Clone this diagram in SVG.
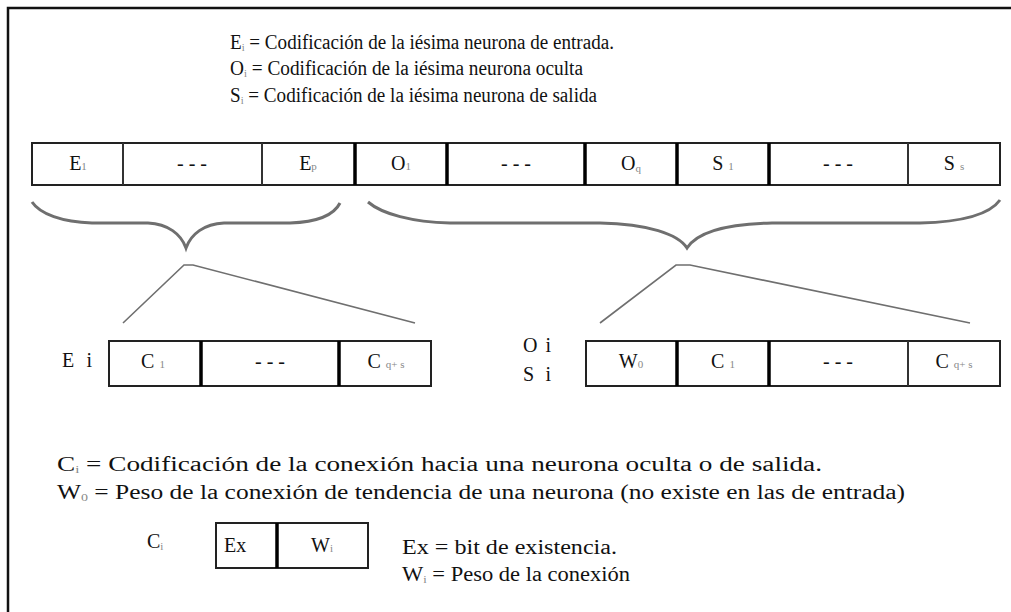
<svg xmlns="http://www.w3.org/2000/svg" width="1011" height="612" viewBox="0 0 1011 612">
<style>
text{font-family:"Liberation Serif","Times New Roman",serif;fill:#111}
.h{font-size:20px}
.b{font-size:20px}
.s{font-size:11px;fill:#888}
.box{fill:#fff;stroke:#222;stroke-width:2}
.thin{stroke:#333;stroke-width:2}
.thick{stroke:#000;stroke-width:3.5}
.brace{fill:none;stroke:#6f6f6f;stroke-width:3}
.lead{fill:none;stroke:#6f6f6f;stroke-width:1.6}
.m{text-anchor:middle}
</style>
<rect width="1011" height="612" fill="#fff"/>
<path d="M8,620 V8 H1020" fill="none" stroke="#111" stroke-width="2.5"/>

<g id="legend-top">
<text class="h" x="230" y="49" textLength="384" lengthAdjust="spacingAndGlyphs">E<tspan class="s" dy="2">i</tspan><tspan dy="-2"> =  Codificación de la iésima neurona de entrada.</tspan></text>
<text class="h" x="230" y="75" textLength="353" lengthAdjust="spacingAndGlyphs">O<tspan class="s" dy="2">i</tspan><tspan dy="-2"> = Codificación de la iésima neurona oculta</tspan></text>
<text class="h" x="230" y="102" textLength="367" lengthAdjust="spacingAndGlyphs">S<tspan class="s" dy="2">i</tspan><tspan dy="-2"> =  Codificación de la iésima neurona de salida</tspan></text>
</g>

<g id="chromosome">
<rect class="box" x="32" y="143" width="968" height="42"/>
<line class="thin" x1="123" y1="143" x2="123" y2="185"/>
<line class="thin" x1="262" y1="143" x2="262" y2="185"/>
<line class="thick" x1="355" y1="143" x2="355" y2="185"/>
<line class="thick" x1="447" y1="143" x2="447" y2="185"/>
<line class="thick" x1="585" y1="143" x2="585" y2="185"/>
<line class="thick" x1="677" y1="143" x2="677" y2="185"/>
<line class="thick" x1="769" y1="143" x2="769" y2="185"/>
<line class="thin" x1="908" y1="143" x2="908" y2="185"/>
<text class="b m" x="78" y="170">E<tspan class="s">1</tspan></text>
<text class="b m" x="192" y="170">- - -</text>
<text class="b m" x="308" y="170">E<tspan class="s">p</tspan></text>
<text class="b m" x="401" y="170">O<tspan class="s">1</tspan></text>
<text class="b m" x="516" y="170">- - -</text>
<text class="b m" x="631" y="170">O<tspan class="s" dy="2">q</tspan></text>
<text class="b m" x="723" y="170">S <tspan class="s">1</tspan></text>
<text class="b m" x="838" y="170">- - -</text>
<text class="b m" x="954" y="170">S <tspan class="s">s</tspan></text>
</g>

<g id="connectors">
<path class="brace" d="M32,202 C40,214 62,222 92,223 L148,223 C168,224 181,234 186,248 C191,234 204,224 224,223 L290,223 C318,222 334,215 340,203"/>
<path class="brace" d="M368,202 C382,214 412,222 450,223 L600,223 C648,224 678,234 687,248 C696,234 722,224 772,223 L920,223 C962,222 990,214 1000,200"/>
<polyline class="lead" points="123,323 184,265 193,265 415,323"/>
<polyline class="lead" points="600,323 676,265 690,265 970,323"/>
</g>

<g id="gene-input">
<text class="b" x="62" y="367" textLength="30" lengthAdjust="spacing">E i</text>
<rect class="box" x="109" y="341" width="322" height="45"/>
<line class="thick" x1="201" y1="341" x2="201" y2="386"/>
<line class="thick" x1="339" y1="341" x2="339" y2="386"/>
<text class="b m" x="153" y="368">C <tspan class="s">1</tspan></text>
<text class="b m" x="270" y="368">- - -</text>
<text class="b m" x="386" y="368">C <tspan class="s">q+ s</tspan></text>
</g>

<g id="gene-hidden-output">
<text class="b" x="523" y="352" textLength="28" lengthAdjust="spacing">O i</text>
<text class="b" x="523" y="381" textLength="28" lengthAdjust="spacing">S i</text>
<rect class="box" x="586" y="341" width="414" height="45"/>
<line class="thick" x1="677" y1="341" x2="677" y2="386"/>
<line class="thick" x1="769" y1="341" x2="769" y2="386"/>
<line class="thin" x1="908" y1="341" x2="908" y2="386"/>
<text class="b m" x="631" y="368">W<tspan class="s">0</tspan></text>
<text class="b m" x="723" y="368">C <tspan class="s">1</tspan></text>
<text class="b m" x="838" y="368">- - -</text>
<text class="b m" x="954" y="368">C <tspan class="s">q+ s</tspan></text>
</g>

<g id="legend-middle">
<text class="h" x="57" y="471" textLength="765" lengthAdjust="spacingAndGlyphs">C<tspan class="s" dy="2">i</tspan><tspan dy="-2"> =  Codificación de la conexión hacia una neurona oculta o de salida.</tspan></text>
<text class="h" x="57" y="499" textLength="848" lengthAdjust="spacingAndGlyphs">W<tspan class="s" dy="2">0</tspan><tspan dy="-2"> =  Peso de la conexión de tendencia de una neurona (no existe en las de entrada)</tspan></text>
</g>

<g id="connection-gene">
<text class="b" x="147" y="548">C<tspan class="s" dy="2">i</tspan></text>
<rect class="box" x="216" y="523" width="152" height="45"/>
<line class="thick" x1="277" y1="523" x2="277" y2="568"/>
<text class="b" x="224" y="552">Ex</text>
<text class="b m" x="322" y="552">W<tspan class="s">i</tspan></text>
</g>

<g id="legend-bottom">
<text class="h" x="402" y="554" textLength="215" lengthAdjust="spacingAndGlyphs">Ex =  bit de existencia.</text>
<text class="h" x="402" y="581" textLength="228" lengthAdjust="spacingAndGlyphs">W<tspan class="s" dy="2">i</tspan><tspan dy="-2"> = Peso de la conexión</tspan></text>
</g>
</svg>
